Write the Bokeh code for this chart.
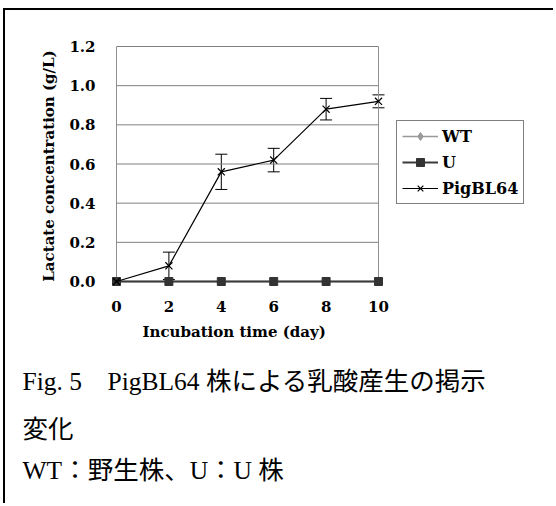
from bokeh.plotting import figure
from bokeh.models import (Range1d, FixedTicker, Legend, LegendItem, Whisker, TeeHead,
                          ColumnDataSource, Title)
from bokeh.embed import file_html
from bokeh.resources import INLINE

# ---------------- data ----------------
days = [0, 2, 4, 6, 8, 10]
wt = [0.0, 0.0, 0.0, 0.0, 0.0, 0.0]
u = [0.0, 0.0, 0.0, 0.0, 0.0, 0.0]
pig = [0.0, 0.08, 0.56, 0.62, 0.88, 0.92]
pig_err = [0.0, 0.07, 0.09, 0.06, 0.055, 0.033]

xticks = [0, 2, 4, 6, 8, 10]
yticks = [0.0, 0.2, 0.4, 0.6, 0.8, 1.0, 1.2]
ytick_labels = ["0.0", "0.2", "0.4", "0.6", "0.8", "1.0", "1.2"]

series_names = ["WT", "U", "PigBL64"]
x_title = "Incubation time (day)"
y_title = "Lactate concentration (g/L)"
caption_lines = ["Fig. 5\u3000PigBL64 株による乳酸産生の掲示",
                 "変化",
                 "WT\uff1a野生株、U\uff1aU 株"]

# ---------------- layout (page pixels) ----------------
OX, OY = 5, 10                 # page position of canvas origin (css margin + border)
W, H = 550, 495
PX_X0, PX_X10 = 116, 378       # page x of day 0 / day 10
PX_Y0, PX_Y12 = 281, 46        # page y of 0.0 / 1.2
FR_L, FR_R, FR_T, FR_B = 82, OX + W, 45, 286

kx = (PX_X10 - PX_X0) / (xticks[-1] - xticks[0])
ky = (PX_Y0 - PX_Y12) / (yticks[-1] - yticks[0])

def dx(px):
    return (px - PX_X0) / kx

def dy(py):
    return (PX_Y0 - py) / ky

p = figure(width=W, height=H, output_backend="svg", toolbar_location=None,
           x_range=Range1d(dx(FR_L), dx(FR_R)), y_range=Range1d(dy(FR_B), dy(FR_T)),
           min_border_left=FR_L - OX, min_border_right=OX + W - FR_R,
           min_border_top=FR_T - OY, min_border_bottom=OY + H - FR_B)
p.outline_line_color = None
p.background_fill_color = "white"
p.border_fill_color = "white"
p.xgrid.visible = False
p.ygrid.visible = False
p.styles = {"margin-left": "3px", "margin-top": "8px",
            "border-left": "2px solid black", "border-top": "2px solid black"}

AX_FONT = "DejaVu Serif"
for ax in (p.xaxis[0], p.yaxis[0]):
    ax.axis_line_color = None
    ax.major_tick_line_color = None
    ax.minor_tick_line_color = None
    ax.major_tick_out = 0
    ax.major_tick_in = 0
    ax.major_label_text_font = AX_FONT
    ax.major_label_text_font_style = "bold"
    ax.major_label_text_font_size = "15px"
    ax.major_label_text_color = "black"
    ax.axis_label_text_font = AX_FONT
    ax.axis_label_text_font_style = "bold"
    ax.axis_label_text_font_size = "15px"
    ax.axis_label_text_color = "black"

p.xaxis.ticker = FixedTicker(ticks=xticks)
p.yaxis.ticker = FixedTicker(ticks=yticks)
p.yaxis.major_label_overrides = {t: s for t, s in zip(yticks, ytick_labels)}
p.yaxis.axis_label = y_title
p.yaxis.major_label_standoff = FR_L - 95
p.yaxis.axis_label_standoff = 8
p.xaxis.major_label_standoff = 14

# gridlines / plot-area border from tick arrays
p.segment(x0=[xticks[0]] * (len(yticks) - 1), x1=[xticks[-1]] * (len(yticks) - 1),
          y0=yticks[1:], y1=yticks[1:], line_color="#808080", line_width=1)
p.segment(x0=[xticks[0], xticks[-1]], x1=[xticks[0], xticks[-1]],
          y0=[yticks[0]] * 2, y1=[yticks[-1]] * 2, line_color="#909090", line_width=1)

# series
r_wt_l = p.line(days, wt, line_color="#999999", line_width=1.5)
r_wt_m = p.scatter(days, wt, marker="diamond", size=9, fill_color="#999999", line_color="#999999")
r_u_l = p.line(days, u, line_color="#3a3a3a", line_width=2)
r_u_m = p.scatter(days, u, marker="square", size=8, fill_color="#333333", line_color="#333333")
r_p_l = p.line(days, pig, line_color="black", line_width=1.2)
r_p_m = p.scatter(days, pig, marker="x", size=10, line_color="black", line_width=1.2)

ed = [(d, v, e) for d, v, e in zip(days, pig, pig_err) if e > 0]
err_src = ColumnDataSource(dict(x=[a for a, _, _ in ed],
                                upper=[b + c for _, b, c in ed],
                                lower=[b - c for _, b, c in ed]))
p.add_layout(Whisker(source=err_src, base="x", upper="upper", lower="lower",
                     line_color="black", line_width=1,
                     upper_head=TeeHead(size=12, line_color="black", line_width=1),
                     lower_head=TeeHead(size=12, line_color="black", line_width=1)))

legend = Legend(items=[LegendItem(label=series_names[0], renderers=[r_wt_l, r_wt_m]),
                       LegendItem(label=series_names[1], renderers=[r_u_l, r_u_m]),
                       LegendItem(label=series_names[2], renderers=[r_p_l, r_p_m])],
                location=(396 - FR_L, FR_B - 204))
legend.border_line_color = "black"
legend.border_line_width = 1
legend.background_fill_color = "white"
legend.background_fill_alpha = 1
legend.label_text_font = AX_FONT
legend.label_text_font_style = "bold"
legend.label_text_font_size = "16px"
legend.label_text_color = "black"
legend.glyph_width = 36
legend.glyph_height = 20
legend.label_height = 20
legend.spacing = 6
legend.padding = 5
legend.margin = 0
legend.label_standoff = 4
p.add_layout(legend, "center")

# x-axis title, placed below the tick labels
p.add_layout(Title(text=x_title, align="left", offset=142 - FR_L, standoff=13,
                   text_font=AX_FONT, text_font_size="15px", text_font_style="bold",
                   text_color="black"), "below")

# caption lines below
CAP_FONT = "Liberation Serif, Noto Sans CJK JP"
for txt, so in zip(caption_lines, [34, 0, 21]):
    p.add_layout(Title(text=txt, align="left", offset=22 - FR_L, standoff=so,
                       text_font=CAP_FONT, text_font_size="25.5px", text_font_style="normal",
                       text_color="black"), "below")

open("out.html", "w").write(file_html(p, INLINE))
